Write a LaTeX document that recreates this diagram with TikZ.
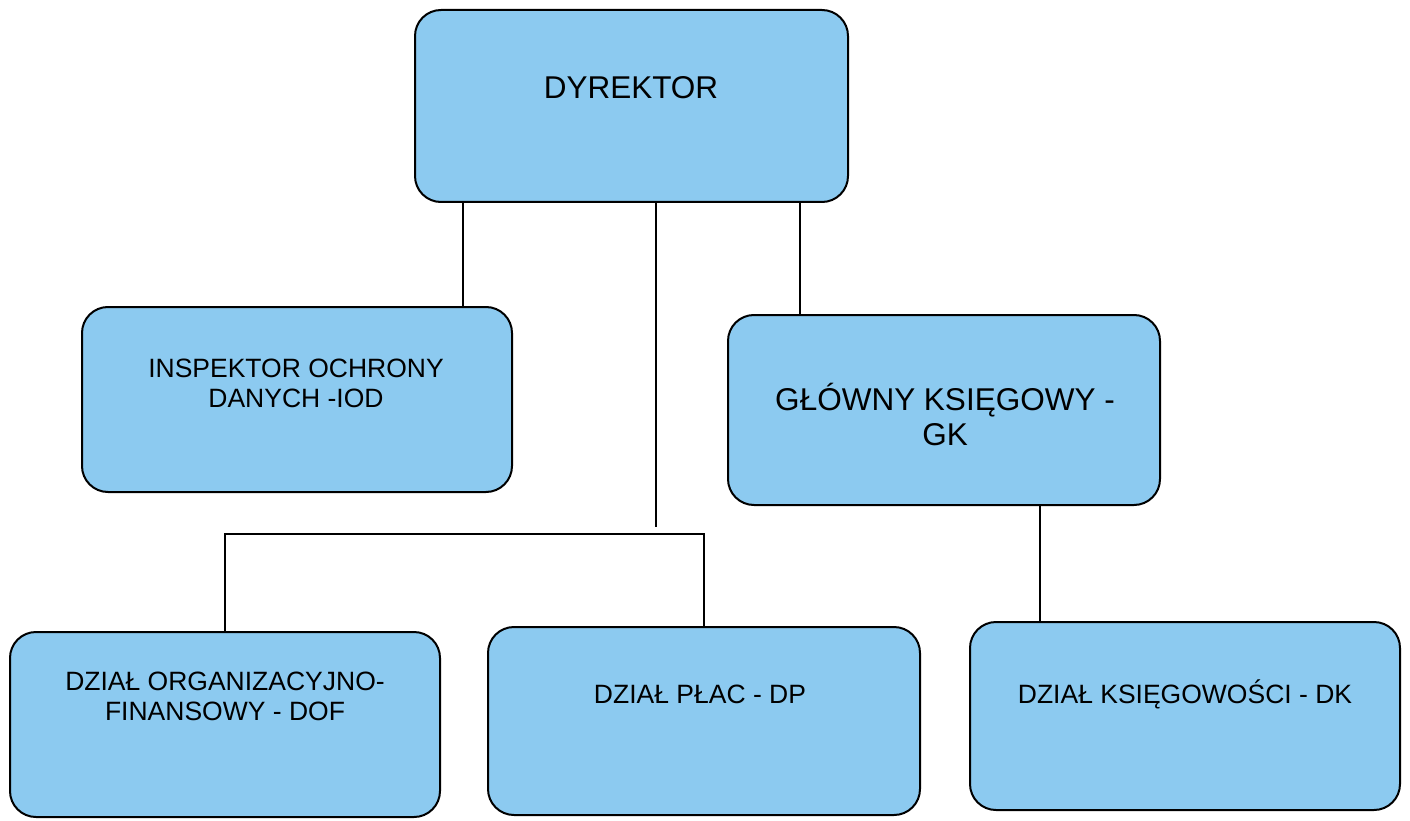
\documentclass[tikz,border=0pt]{standalone}
\usepackage{fontspec}
\setmainfont{Liberation Sans}
\definecolor{boxblue}{RGB}{140,202,240}
\begin{document}
\begin{tikzpicture}[x=1pt,y=-1pt,
  box/.style={draw=black, line width=2pt, fill=boxblue, rounded corners=26pt, inner sep=0pt},
  big/.style={inner sep=0pt, anchor=base, font=\fontsize{31.5}{36}\selectfont},
  small/.style={inner sep=0pt, anchor=base, font=\fontsize{26.5}{30}\selectfont},
  conn/.style={draw=black, line width=1.8pt}]
\useasboundingbox (0,0) rectangle (1410,821);
% boxes
\node[box, minimum width=433pt, minimum height=192pt] (dir) at (631.5,106) {};
\node[box, minimum width=430pt, minimum height=185pt] (iod) at (297,399.5) {};
\node[box, minimum width=432pt, minimum height=190pt] (gk) at (944,410) {};
\node[box, minimum width=430pt, minimum height=185pt] (dof) at (225,724.5) {};
\node[box, minimum width=432pt, minimum height=188pt] (dp) at (704,721) {};
\node[box, minimum width=430pt, minimum height=188pt] (dk) at (1185,716) {};
% labels
\node[big] (dirT) at (631,99) {DYREKTOR};
\node[small] (iodA) at (296,377) {INSPEKTOR OCHRONY};
\node[small] (iodB) at (296,407) {DANYCH -IOD};
\node[big] (gkA) at (945,410) {GŁÓWNY KSIĘGOWY -};
\node[big] (gkB) at (945,445) {GK};
\node[small] (dofA) at (225,690) {DZIAŁ ORGANIZACYJNO-};
\node[small] (dofB) at (225,720) {FINANSOWY - DOF};
\node[small] (dpT) at (700,703) {DZIAŁ PŁAC - DP};
\node[small] (dkT) at (1185,703) {DZIAŁ KSIĘGOWOŚCI - DK};
% connectors
\coordinate (midEnd) at (656,527);
\coordinate (barY) at (0,534);
\draw[conn] (dir.south -| 463,0) -- (iod.north -| 463,0);
\draw[conn] (dir.south -| 800,0) -- (gk.north -| 800,0);
\draw[conn] (dir.south -| midEnd) -- (midEnd);
\draw[conn] (dof.north) -- (dof.north |- barY) -- (dp.north |- barY) -- (dp.north);
\draw[conn] (gk.south -| 1040,0) -- (dk.north -| 1040,0);
\end{tikzpicture}
\end{document}
